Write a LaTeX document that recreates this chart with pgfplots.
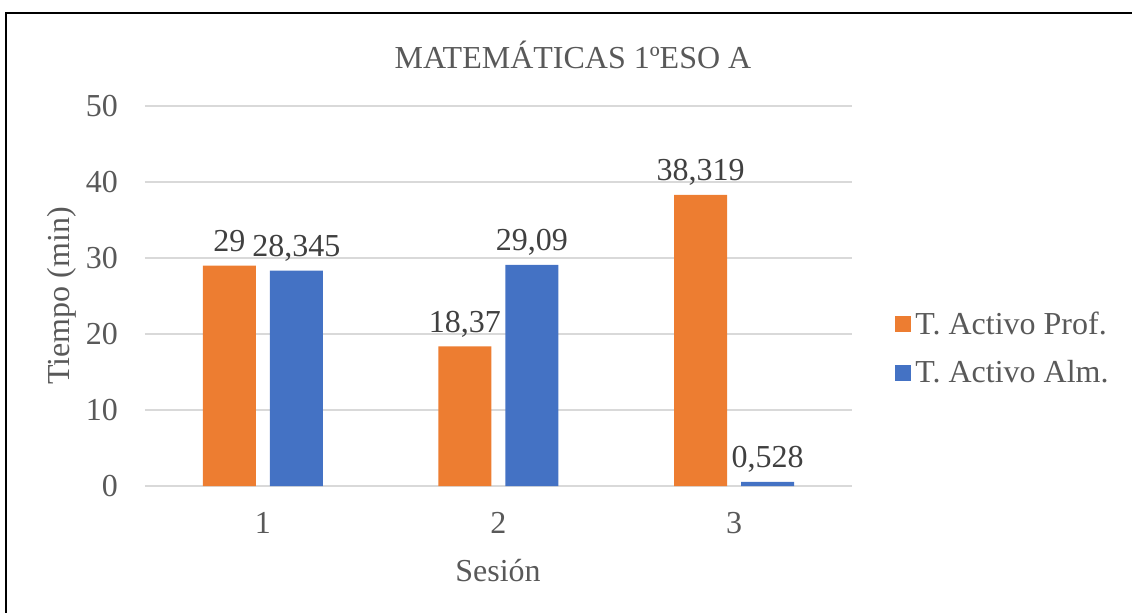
\documentclass[border=0pt]{standalone}
\usepackage{pgfplots}
\pgfplotsset{compat=1.18}
\usepackage{fontspec}
\setmainfont{Liberation Serif}
\definecolor{prof}{HTML}{ED7D31}
\definecolor{alm}{HTML}{4472C4}
\definecolor{gridc}{HTML}{D9D9D9}
\definecolor{txt}{HTML}{595959}
\definecolor{lbl}{HTML}{404040}
\newcommand{\chartfont}{\fontsize{16}{19}\selectfont}
\begin{document}
\begin{tikzpicture}[x=0.5pt,y=-0.5pt]
\useasboundingbox (0,0) rectangle (1132,612);
\draw[line width=1.4pt] (6,640) -- (6,13) -- (1160,13);
\coordinate (O) at (145,486);
\begin{axis}[
    at={(O)}, anchor=south west,
    width=353.5pt, height=190pt, scale only axis,
    xmin=0.5, xmax=3.5, ymin=0, ymax=50,
    ybar=7pt, bar width=26.5pt,
    axis line style={draw=none},
    xtick={1,2,3}, ytick={0,10,20,30,40,50},
    major tick length=0pt,
    /pgf/number format/assume math mode=true,
    ymajorgrids, grid style={gridc, line width=0.8pt},
    tick label style={font=\chartfont, text=txt},
    xticklabel style={yshift=-9.5pt},
    yticklabel style={xshift=-10pt},
    nodes near coords, point meta=explicit symbolic,
    nodes near coords style={font=\chartfont, text=lbl, text depth=0pt, yshift=3.5pt},
    legend style={draw=none, fill=none, at={(1.06,0.362)}, anchor=west, inner sep=0pt,
        font=\chartfont, text=txt, row sep=7pt, nodes={inner sep=2.3pt}},
    legend cell align=left,
    legend image code/.code={\fill[#1] (0pt,-4pt) rectangle (8pt,4pt);},
]
\addplot[fill=prof, draw=none] coordinates {(1,29) [29] (2,18.37) [{18,37}] (3,38.319) [{38,319}]};
\addplot[fill=alm, draw=none] coordinates {(1,28.345) [{28,345}] (2,29.09) [{29,09}] (3,0.528) [{0,528}]};
\legend{T. Activo Prof., T. Activo Alm.}
\end{axis}
\node[font=\chartfont, text=txt] at (573,55) {MATEMÁTICAS 1ºESO A};
\node[font=\chartfont, text=txt, rotate=90] at (62,296) {Tiempo (min)};
\node[font=\chartfont, text=txt] at (498,571) {Sesión};
\end{tikzpicture}
\end{document}
